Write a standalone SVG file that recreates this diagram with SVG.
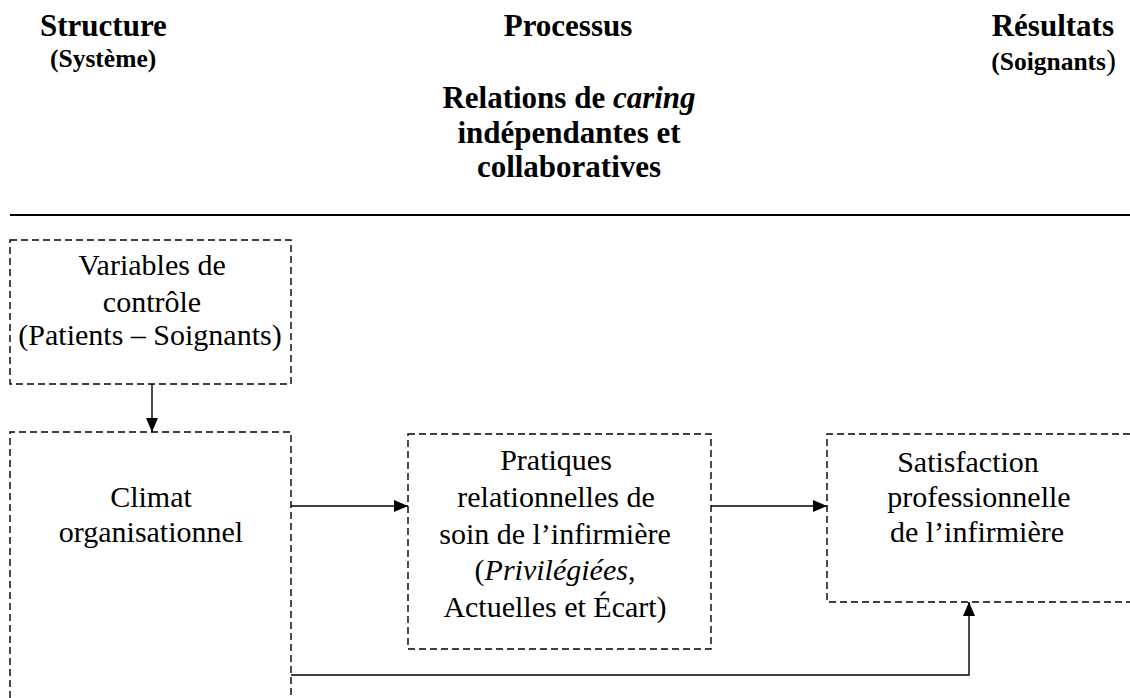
<svg xmlns="http://www.w3.org/2000/svg" width="1130" height="698" viewBox="0 0 1130 698">
<style>
.h{font-family:"Liberation Serif","Times New Roman",serif;font-weight:bold;fill:#000}
.t{font-family:"Liberation Serif","Times New Roman",serif;font-size:30px;fill:#000;text-anchor:middle}
.box{fill:none;stroke:#000;stroke-width:1.4;stroke-dasharray:7 4}
.c{fill:none;stroke:#000;stroke-width:1.4}
</style>
<defs>
<marker id="ah" markerWidth="14" markerHeight="12" refX="14" refY="6" orient="auto" markerUnits="userSpaceOnUse">
<path d="M0,0 L14,6 L0,12 Z" fill="#000"/>
</marker>
</defs>
<g id="headers">
<text class="h" x="40" y="36" font-size="31">Structure</text>
<text class="h" x="50" y="67" font-size="25.5">(Système)</text>
<text class="h" x="568" y="36" font-size="31" text-anchor="middle">Processus</text>
<text class="h" x="1114" y="36" font-size="31" text-anchor="end">Résultats</text>
<text class="h" x="1116" y="70" font-size="25.5" text-anchor="end">(Soignants<tspan font-weight="normal" font-size="30">)</tspan></text>
<text class="h" x="569" y="108" font-size="31" text-anchor="middle">Relations de <tspan font-style="italic">caring</tspan></text>
<text class="h" x="569" y="143" font-size="31" text-anchor="middle">indépendantes et</text>
<text class="h" x="569" y="177" font-size="31" text-anchor="middle">collaboratives</text>
<line x1="10" y1="215" x2="1130" y2="215" stroke="#000" stroke-width="2"/>
</g>
<g id="n-variables">
<rect class="box" x="10" y="240" width="281" height="144"/>
<text class="t" x="152" y="275">Variables de</text>
<text class="t" x="152" y="312">contrôle</text>
<text class="t" x="150" y="345" font-size="25.5">(Patients – Soignants)</text>
</g>
<g id="n-climat">
<path class="box" d="M10,698 L10,432 L291,432 L291,698"/>
<text class="t" x="151" y="507">Climat</text>
<text class="t" x="151" y="542">organisationnel</text>
</g>
<g id="n-pratiques">
<rect class="box" x="408" y="434" width="303" height="215"/>
<text class="t" x="556" y="470">Pratiques</text>
<text class="t" x="556" y="507">relationnelles de</text>
<text class="t" x="555" y="544">soin de l’infirmière</text>
<text class="t" x="555" y="580">(<tspan font-style="italic">Privilégiées</tspan>,</text>
<text class="t" x="555" y="617">Actuelles et Écart)</text>
</g>
<g id="n-satisfaction">
<path class="box" d="M1130,434 L827,434 L827,602 L1130,602"/>
<text class="t" x="968" y="472">Satisfaction</text>
<text class="t" x="979" y="507">professionnelle</text>
<text class="t" x="977" y="542">de l’infirmière</text>
</g>
<g id="connectors">
<line class="c" x1="152" y1="384" x2="152" y2="432" marker-end="url(#ah)"/>
<line class="c" x1="291" y1="506" x2="408" y2="506" marker-end="url(#ah)"/>
<line class="c" x1="711" y1="506" x2="827" y2="506" marker-end="url(#ah)"/>
<path class="c" d="M291,675 L969,675 L969,602" stroke-width="2" marker-end="url(#ah)"/>
</g>
</svg>
